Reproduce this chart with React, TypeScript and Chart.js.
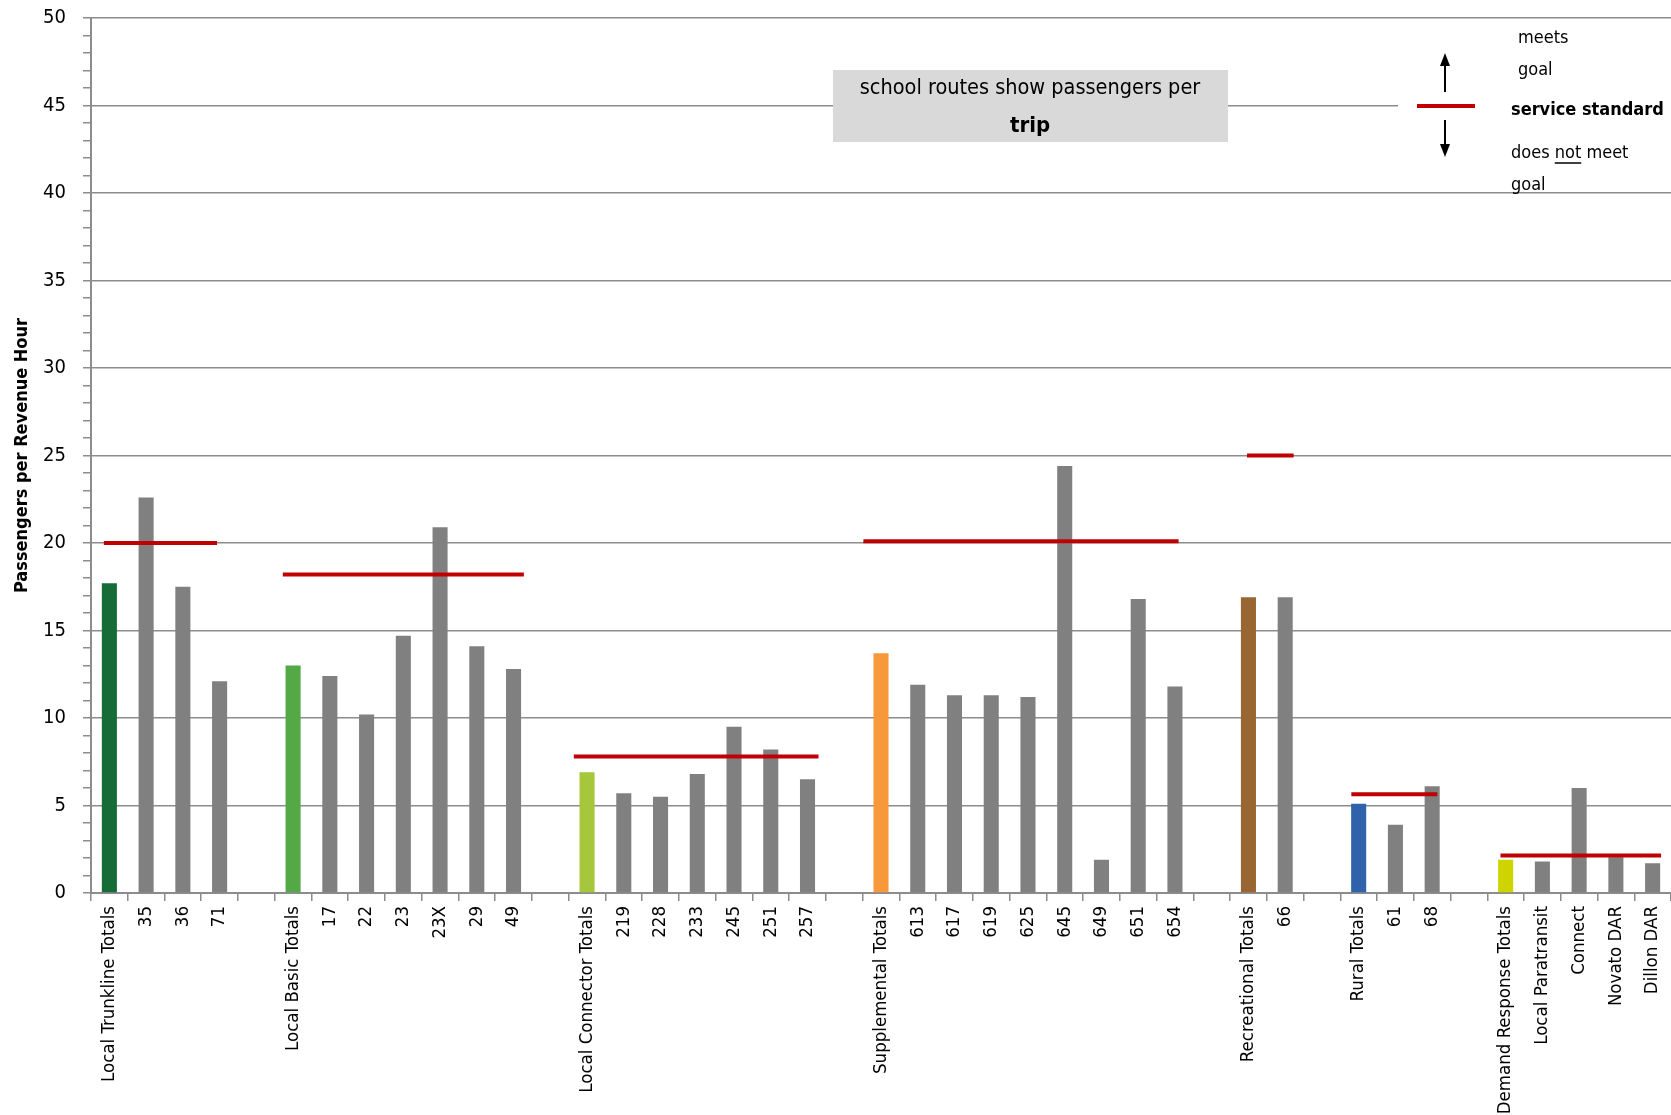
import React, { useEffect, useRef } from 'react';
import { Chart, registerables } from 'chart.js';

Chart.register(...registerables);

const FONT = "'Liberation Sans Narrow', 'DejaVu Sans Condensed', 'Open Sans', sans-serif";

const categories: string[] = [
  'Local Trunkline Totals', '35', '36', '71', '',
  'Local Basic Totals', '17', '22', '23', '23X', '29', '49', '',
  'Local Connector Totals', '219', '228', '233', '245', '251', '257', '',
  'Supplemental Totals', '613', '617', '619', '625', '645', '649', '651', '654', '',
  'Recreational Totals', '66', '',
  'Rural Totals', '61', '68', '',
  'Demand Response Totals', 'Local Paratransit', 'Connect', 'Novato DAR', 'Dillon DAR',
];

const passengersPerHour: (number | null)[] = [
  17.7, 22.6, 17.5, 12.1, null,
  13.0, 12.4, 10.2, 14.7, 20.9, 14.1, 12.8, null,
  6.9, 5.7, 5.5, 6.8, 9.5, 8.2, 6.5, null,
  13.7, 11.9, 11.3, 11.3, 11.2, 24.4, 1.9, 16.8, 11.8, null,
  16.9, 16.9, null,
  5.1, 3.9, 6.1, null,
  1.9, 1.8, 6.0, 2.05, 1.7,
];

const totalLabels = ['Local Trunkline Totals', 'Local Basic Totals', 'Local Connector Totals', 'Supplemental Totals', 'Recreational Totals', 'Rural Totals', 'Demand Response Totals'];
const totalColors = ['#176b36', '#55a846', '#a6c63b', '#f7993a', '#996633', '#2f62ab', '#cdd400'];
const routeColor = '#808080';

// service standards: value and span in category-index units
const standardValues = [20, 18.2, 7.8, 20.1, 25, 5.65, 2.15];
const standardStart = [-0.15, 4.72, 12.64, 20.52, 30.96, 33.8, 37.86];
const standardEnd = [2.93, 11.28, 19.3, 29.1, 32.23, 36.14, 42.23];

const yTitle = 'Passengers per Revenue Hour';
const noteLines = ['school routes show passengers per', 'trip'];

const GRID = '#8c8c8c';
const RED = '#c00000';

const barColors = categories.map((c) => {
  const i = totalLabels.indexOf(c);
  return i >= 0 ? totalColors[i] : routeColor;
});

const standardsPlugin = {
  id: 'standards',
  afterDatasetsDraw(chart: any) {
    const { ctx } = chart;
    const x = chart.scales.x;
    const y = chart.scales.y;
    const p0 = x.getPixelForValue(0);
    const step = x.getPixelForValue(1) - p0;
    ctx.save();
    ctx.strokeStyle = RED;
    ctx.lineWidth = 4;
    standardValues.forEach((v, i) => {
      const yy = y.getPixelForValue(v);
      ctx.beginPath();
      ctx.moveTo(p0 + standardStart[i] * step, yy);
      ctx.lineTo(p0 + standardEnd[i] * step, yy);
      ctx.stroke();
    });
    ctx.restore();
  },
};

const decorPlugin = {
  id: 'decor',
  afterDraw(chart: any) {
    const { ctx } = chart;
    ctx.save();
    // note box
    ctx.fillStyle = '#d9d9d9';
    ctx.fillRect(833, 70, 395, 72);
    ctx.fillStyle = '#000';
    ctx.textAlign = 'center';
    ctx.textBaseline = 'middle';
    ctx.font = `21.5px ${FONT}`;
    ctx.fillText(noteLines[0], 1030, 88);
    ctx.font = `bold 22px ${FONT}`;
    ctx.fillText(noteLines[1], 1030, 126);

    // legend area
    ctx.fillStyle = '#fff';
    ctx.fillRect(1398, 28, 273, 156);
    // arrows
    ctx.strokeStyle = '#000';
    ctx.fillStyle = '#000';
    ctx.lineWidth = 2;
    const ax = 1445;
    ctx.beginPath(); ctx.moveTo(ax, 92); ctx.lineTo(ax, 62); ctx.stroke();
    ctx.beginPath(); ctx.moveTo(ax, 53); ctx.lineTo(ax - 5, 66); ctx.lineTo(ax + 5, 66); ctx.closePath(); ctx.fill();
    ctx.beginPath(); ctx.moveTo(ax, 120); ctx.lineTo(ax, 148); ctx.stroke();
    ctx.beginPath(); ctx.moveTo(ax, 157); ctx.lineTo(ax - 5, 144); ctx.lineTo(ax + 5, 144); ctx.closePath(); ctx.fill();
    // red sample
    ctx.strokeStyle = RED;
    ctx.lineWidth = 4;
    ctx.beginPath(); ctx.moveTo(1417, 106); ctx.lineTo(1475, 106); ctx.stroke();
    // texts
    ctx.fillStyle = '#000';
    ctx.textAlign = 'left';
    ctx.textBaseline = 'middle';
    ctx.font = `18px ${FONT}`;
    ctx.fillText('meets', 1518, 38);
    ctx.fillText('goal', 1518, 70);
    ctx.font = `bold 18px ${FONT}`;
    ctx.fillText('service standard', 1511, 110);
    ctx.font = `18px ${FONT}`;
    let tx = 1511;
    ctx.fillText('does ', tx, 153);
    tx += ctx.measureText('does ').width;
    ctx.fillText('not', tx, 153);
    const nw = ctx.measureText('not').width;
    ctx.strokeStyle = '#000';
    ctx.lineWidth = 1.5;
    ctx.beginPath(); ctx.moveTo(tx, 163); ctx.lineTo(tx + nw, 163); ctx.stroke();
    tx += nw;
    ctx.fillText(' meet', tx, 153);
    ctx.fillText('goal', 1511, 185);
    ctx.restore();
  },
};

export default function App() {
  const ref = useRef<HTMLCanvasElement | null>(null);
  useEffect(() => {
    if (!ref.current) return;
    const chart = new Chart(ref.current, {
      type: 'bar',
      data: {
        labels: categories,
        datasets: [
          {
            data: passengersPerHour,
            backgroundColor: barColors,
            barPercentage: 0.41,
            categoryPercentage: 1,
          },
        ],
      },
      options: {
        responsive: false,
        animation: false,
        layout: { padding: { top: 18, left: 0, right: 0, bottom: 0 } },
        plugins: { legend: { display: false }, tooltip: { enabled: false }, title: { display: false } },
        scales: {
          x: {
            ticks: {
              autoSkip: false,
              maxRotation: 90,
              minRotation: 90,
              padding: 5,
              color: '#000',
              font: { size: 18.5, family: FONT },
            },
            grid: {
              drawOnChartArea: false,
              drawTicks: true,
              tickLength: 8,
              tickColor: GRID,
              color: GRID,
              offset: true,
              lineWidth: 1.5,
            },
            border: { color: GRID, width: 2 },
            afterFit: (s: any) => {
              s.height = 222;
              s.paddingLeft = 0;
              s.paddingRight = 0;
            },
          },
          y: {
            min: 0,
            max: 50,
            ticks: {
              stepSize: 1,
              autoSkip: false,
              padding: 17,
              color: '#000',
              font: { size: 20, family: FONT },
              callback: (v: any) => (Number(v) % 5 === 0 ? String(v) : ''),
            },
            grid: {
              color: (c: any) => (c.tick && c.tick.value % 5 === 0 ? GRID : 'rgba(0,0,0,0)'),
              lineWidth: 1.5,
              tickColor: GRID,
              tickLength: 8,
              drawTicks: true,
            },
            border: { color: GRID, width: 2 },
            title: {
              display: true,
              text: yTitle,
              color: '#000',
              font: { size: 18, weight: 'bold', family: FONT },
              padding: { top: 12, bottom: 0 },
            },
            afterFit: (s: any) => {
              s.width = 91;
              s.paddingTop = 0;
              s.paddingBottom = 0;
            },
          },
        },
      },
      plugins: [standardsPlugin, decorPlugin],
    } as any);
    return () => chart.destroy();
  }, []);
  return (
    <div style={{ position: 'absolute', left: 0, top: 0, width: 1671, height: 1115 }}>
      <canvas ref={ref} width={1671} height={1115} />
    </div>
  );
}
